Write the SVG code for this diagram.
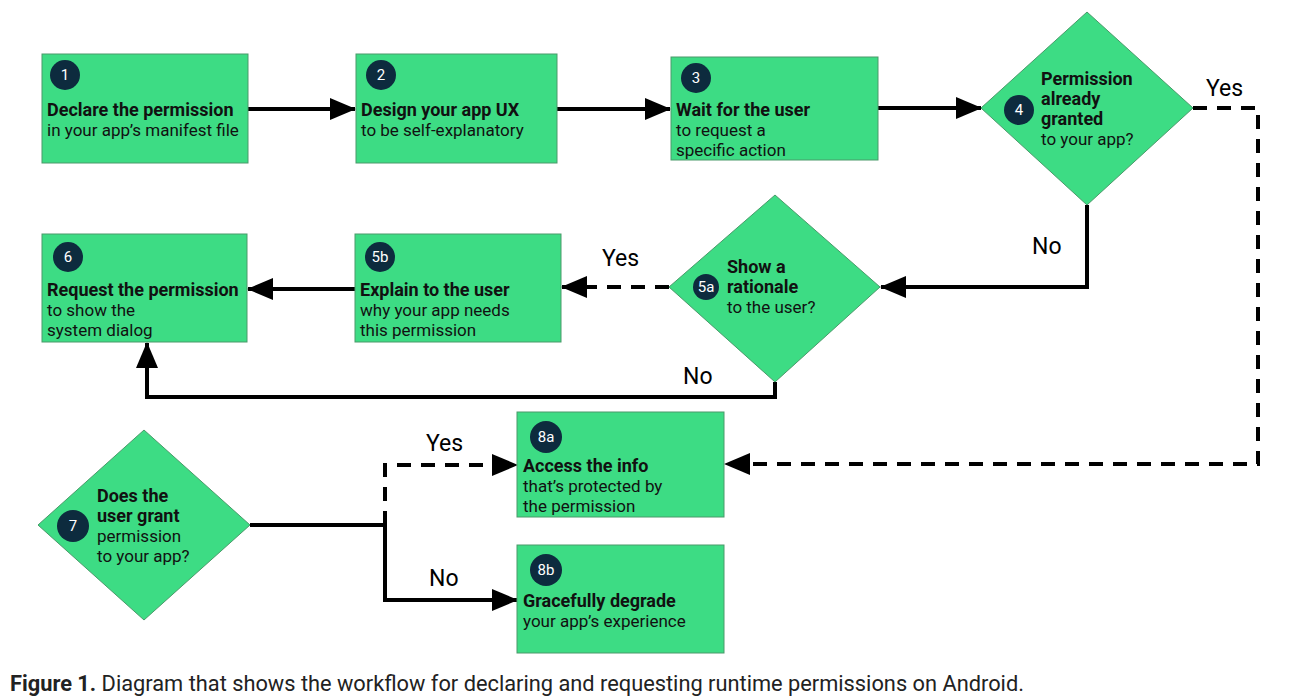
<svg xmlns="http://www.w3.org/2000/svg" width="1295" height="698" viewBox="0 0 1295 698">
<defs>
<style>
.node{fill:#3ddc84;stroke:#4a9a6a;stroke-width:1}
.num{fill:#0d2b3e}
.numt{fill:#ffffff;font-family:Roboto,"Liberation Sans",sans-serif;font-size:15px;text-anchor:middle}
.t{fill:#111;font-family:Roboto,"Liberation Sans",sans-serif;font-size:17px}
.b{font-weight:bold;font-size:18px}
.conn{fill:none;stroke:#000;stroke-width:4}
.dash{stroke-dasharray:14 10}
.lbl{fill:#000;font-family:Roboto,"Liberation Sans",sans-serif;font-size:23px}
.cap{fill:#222;font-family:Roboto,"Liberation Sans",sans-serif;font-size:21.8px}
</style>
<marker id="ah" markerUnits="userSpaceOnUse" markerWidth="26" markerHeight="22" viewBox="0 0 26 22" refX="25" refY="11" orient="auto">
<path d="M0,0 L26,11 L0,22 Z" fill="#000"/>
</marker>
</defs>
<rect width="1295" height="698" fill="#fff"/>

<g id="connectors">
<line class="conn" x1="248" y1="109" x2="355" y2="109" marker-end="url(#ah)"/>
<line class="conn" x1="557" y1="109" x2="670" y2="109" marker-end="url(#ah)"/>
<line class="conn" x1="878" y1="108" x2="981" y2="108" marker-end="url(#ah)"/>
<path class="conn dash" d="M1193,108 H1258 V464 H725" marker-end="url(#ah)"/>
<path class="conn" d="M1087,205 V287 H881" marker-end="url(#ah)"/>
<line class="conn dash" x1="669" y1="287" x2="562" y2="287" marker-end="url(#ah)"/>
<line class="conn" x1="355" y1="289" x2="248" y2="289" marker-end="url(#ah)"/>
<path class="conn" d="M775,382 V397 H147 V343" marker-end="url(#ah)"/>
<path class="conn" d="M250,525 H385 V600 H517" marker-end="url(#ah)"/>
<path class="conn dash" d="M385,525 V465 H517" marker-end="url(#ah)"/>
<text class="lbl" x="1206" y="96">Yes</text>
<text class="lbl" x="1032" y="254">No</text>
<text class="lbl" x="602" y="266">Yes</text>
<text class="lbl" x="683" y="384">No</text>
<text class="lbl" x="426" y="451">Yes</text>
<text class="lbl" x="429" y="586">No</text>
</g>

<g id="n1">
<rect class="node" x="42" y="54" width="206" height="109"/>
<circle class="num" cx="65" cy="75" r="15"/>
<text class="numt" x="65" y="80">1</text>
<text class="t" x="47" y="116"><tspan class="b">Declare the permission</tspan><tspan x="47" dy="20">in your app’s manifest file</tspan></text>
</g>
<g id="n2">
<rect class="node" x="356" y="54" width="201" height="109"/>
<circle class="num" cx="381" cy="75" r="15"/>
<text class="numt" x="381" y="80">2</text>
<text class="t" x="361" y="116"><tspan class="b">Design your app UX</tspan><tspan x="361" dy="20">to be self-explanatory</tspan></text>
</g>
<g id="n3">
<rect class="node" x="671" y="57" width="207" height="103"/>
<circle class="num" cx="696" cy="78" r="15"/>
<text class="numt" x="696" y="83">3</text>
<text class="t" x="676" y="116"><tspan class="b">Wait for the user</tspan><tspan x="676" dy="20">to request a</tspan><tspan x="676" dy="20">specific action</tspan></text>
</g>
<g id="n4">
<polygon class="node" points="1087,12 1193,108 1087,205 981,108"/>
<circle class="num" cx="1019" cy="110" r="15"/>
<text class="numt" x="1019" y="115">4</text>
<text class="t" x="1041" y="85"><tspan class="b">Permission</tspan><tspan class="b" x="1041" dy="20">already</tspan><tspan class="b" x="1041" dy="20">granted</tspan><tspan x="1041" dy="20">to your app?</tspan></text>
</g>
<g id="n5a">
<polygon class="node" points="775,195 880,287 775,382 669,287"/>
<circle class="num" cx="706" cy="287" r="13"/>
<text class="numt" x="706" y="292">5a</text>
<text class="t" x="727" y="273"><tspan class="b">Show a</tspan><tspan class="b" x="727" dy="20">rationale</tspan><tspan x="727" dy="20">to the user?</tspan></text>
</g>
<g id="n5b">
<rect class="node" x="355" y="234" width="206" height="108"/>
<circle class="num" cx="380" cy="257" r="15"/>
<text class="numt" x="380" y="262">5b</text>
<text class="t" x="360" y="296"><tspan class="b">Explain to the user</tspan><tspan x="360" dy="20">why your app needs</tspan><tspan x="360" dy="20">this permission</tspan></text>
</g>
<g id="n6">
<rect class="node" x="42" y="234" width="205" height="108"/>
<circle class="num" cx="68" cy="257" r="15"/>
<text class="numt" x="68" y="262">6</text>
<text class="t" x="47" y="296"><tspan class="b">Request the permission</tspan><tspan x="47" dy="20">to show the</tspan><tspan x="47" dy="20">system dialog</tspan></text>
</g>
<g id="n7">
<polygon class="node" points="144,430 250,525 144,620 38,525"/>
<circle class="num" cx="73" cy="526" r="16"/>
<text class="numt" x="73" y="531">7</text>
<text class="t" x="97" y="502"><tspan class="b">Does the</tspan><tspan class="b" x="97" dy="20">user grant</tspan><tspan x="97" dy="20">permission</tspan><tspan x="97" dy="20">to your app?</tspan></text>
</g>
<g id="n8a">
<rect class="node" x="517" y="412" width="207" height="105"/>
<circle class="num" cx="546" cy="437" r="16"/>
<text class="numt" x="546" y="442">8a</text>
<text class="t" x="523" y="472"><tspan class="b">Access the info</tspan><tspan x="523" dy="20">that’s protected by</tspan><tspan x="523" dy="20">the permission</tspan></text>
</g>
<g id="n8b">
<rect class="node" x="517" y="545" width="207" height="108"/>
<circle class="num" cx="546" cy="570" r="16"/>
<text class="numt" x="546" y="575">8b</text>
<text class="t" x="523" y="607"><tspan class="b">Gracefully degrade</tspan><tspan x="523" dy="20">your app’s experience</tspan></text>
</g>

<text class="cap" x="10" y="691"><tspan font-weight="bold">Figure 1.</tspan> Diagram that shows the workflow for declaring and requesting runtime permissions on Android.</text>
</svg>
